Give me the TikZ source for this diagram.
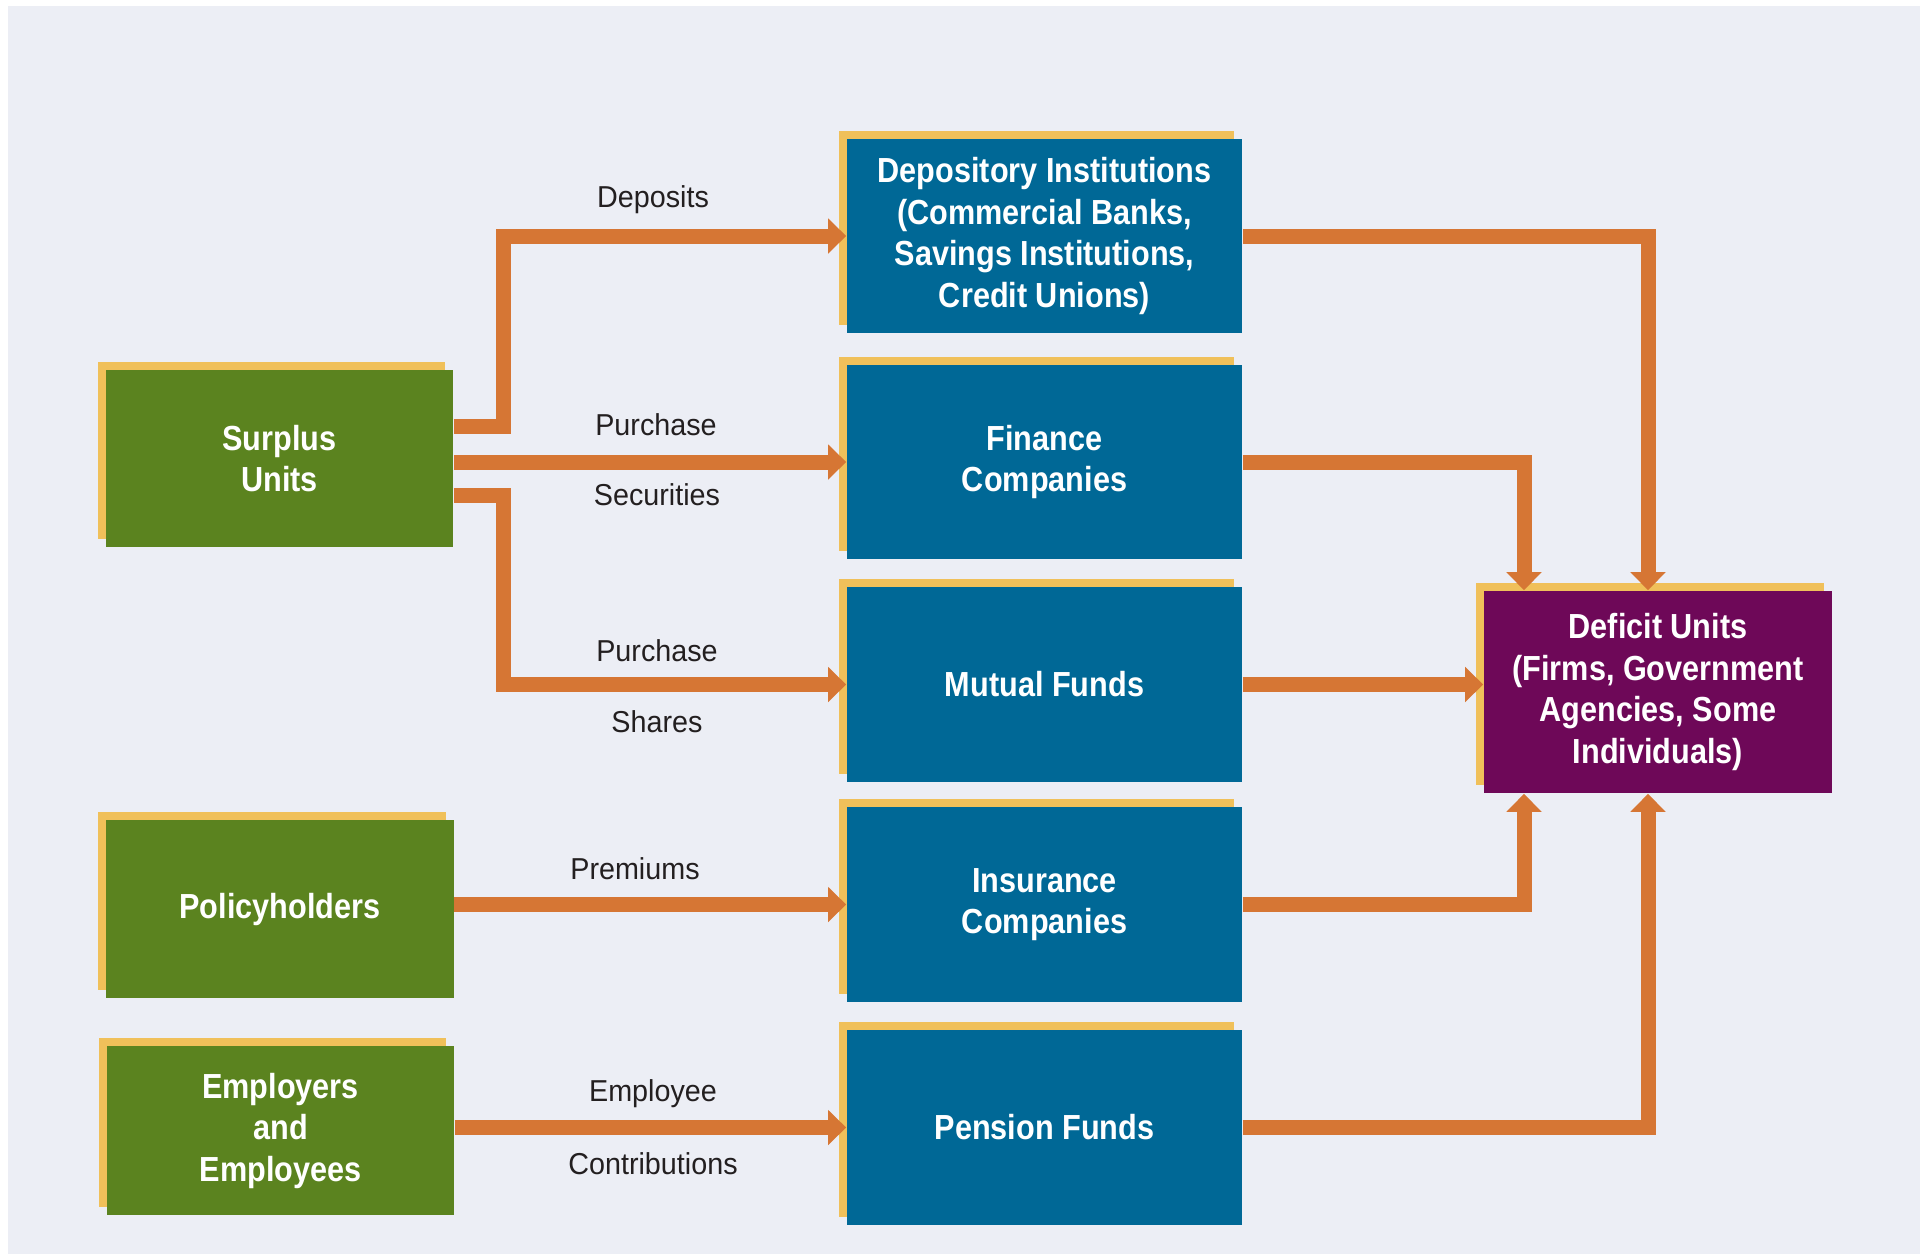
\documentclass[tikz,border=0pt]{standalone}
\usepackage{fontspec}
\setmainfont{Liberation Sans}
\newfontfamily\boxfont{Liberation Sans}[FakeStretch=0.88]
\newfontfamily\lblfont{Liberation Sans}[FakeStretch=0.95]
\usetikzlibrary{arrows.meta,shadows}

\definecolor{panelbg}{RGB}{236,238,245}
\definecolor{edgeyellow}{RGB}{240,192,90}
\definecolor{unitgreen}{RGB}{91,131,31}
\definecolor{instblue}{RGB}{0,104,150}
\definecolor{deficitpurple}{RGB}{110,8,88}
\definecolor{floworange}{RGB}{214,118,52}
\definecolor{lbltext}{RGB}{35,31,32}

\tikzset{
  blk/.style={inner sep=0pt, align=center, text=white,
    font=\boxfont\bfseries\fontsize{9.9pt}{11.8pt}\selectfont,
    general shadow={fill=edgeyellow, shadow xshift=-0.8mm, shadow yshift=0.8mm}},
  unitblk/.style={blk, fill=unitgreen, minimum width=3.47cm, minimum height=1.77cm},
  instblk/.style={blk, fill=instblue, minimum width=3.95cm, minimum height=1.94cm},
  deficitblk/.style={blk, fill=deficitpurple, minimum width=3.48cm, minimum height=2.02cm},
  lbl/.style={inner sep=0pt, text=lbltext, font=\lblfont\fontsize{8.6pt}{10pt}\selectfont},
  flow/.style={draw=floworange, line width=0.15cm,
    -{Triangle[width=0.34cm, length=0.18cm]}}
}

\begin{document}
\begin{tikzpicture}[x=0.01cm, y=-0.01cm]
  \useasboundingbox (0,0) rectangle (1925,1254);
  \fill[panelbg] (8,6) rectangle (1920,1254);

  % surplus side
  \node[unitblk] (surplus) at (279.5,458.5) {Surplus\\Units};
  \node[unitblk] (policy) at (280,909) {Policyholders};
  \node[unitblk, minimum height=1.69cm] (employ) at (280.5,1130.5) {Employers\\and\\Employees};

  % intermediaries
  \foreach \nm/\y/\txt in {
      depo/236/{Depository Institutions\\(Commercial Banks,\\Savings Institutions,\\Credit Unions)},
      finance/462/{Finance\\Companies},
      mutual/684.5/{Mutual Funds},
      insur/904.5/{Insurance\\Companies},
      pension/1127.5/{Pension Funds}} {
    \node[instblk] (\nm) at (1044.5,\y) {\txt};
  }

  % deficit side
  \node[deficitblk] (deficit) at (1658,692) {Deficit Units\\(Firms, Government\\Agencies, Some\\Individuals)};

  \coordinate (fork) at (503,0);
  \coordinate (dropA) at (1524,0);
  \coordinate (dropB) at (1648,0);

  % flows in
  \draw[flow] ([yshift=3.2mm]surplus.east) -| (fork |- depo.west) -- (depo.west);
  \draw[flow] (surplus.east |- finance.west) -- (finance.west);
  \draw[flow] ([yshift=-3.7mm]surplus.east) -| (fork |- mutual.west) -- (mutual.west);
  \draw[flow] (policy.east |- insur.west) -- (insur.west);
  \draw[flow] (employ.east |- pension.west) -- (pension.west);

  % flows out
  \draw[flow] (depo.east) -| (dropB |- deficit.north);
  \draw[flow] (finance.east) -| (dropA |- deficit.north);
  \draw[flow] (mutual.east) -- (deficit.west |- mutual.east);
  \draw[flow] (insur.east) -| (dropA |- deficit.south);
  \draw[flow] (pension.east) -| (dropB |- deficit.south);

  % labels
  \node[lbl] (deplbl) at (653,200) {Deposits};
  \node[lbl] (seclblA) at (656,425) {Purchase};
  \node[lbl] (seclblB) at (657,495) {Securities};
  \node[lbl] (shrlblA) at (657,651) {Purchase};
  \node[lbl] (shrlblB) at (657,722) {Shares};
  \node[lbl] (premlbl) at (635,869) {Premiums};
  \node[lbl] (conlblA) at (653,1094) {Employee};
  \node[lbl] (conlblB) at (653,1164) {Contributions};
\end{tikzpicture}
\end{document}
